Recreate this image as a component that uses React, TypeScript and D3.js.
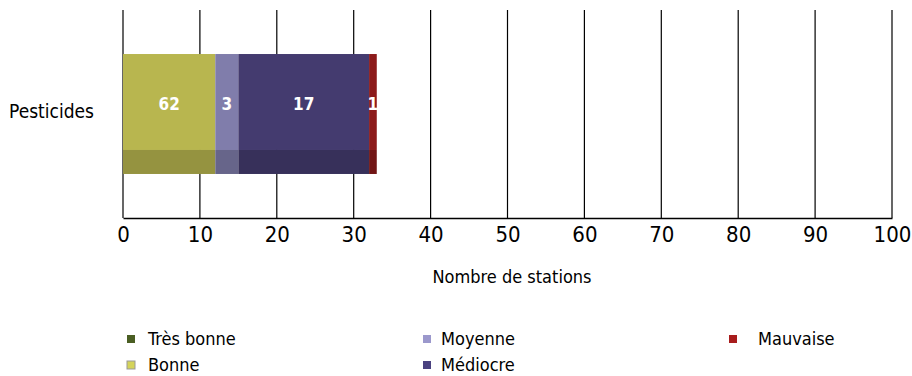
import { useEffect, useRef } from "react";
import * as d3 from "d3";

// catégories et valeurs
const categories = ["Pesticides"];
const classes = ["Très bonne", "Bonne", "Moyenne", "Médiocre", "Mauvaise"];
const values = [0, 12, 3, 17, 1];
const valueLabels = ["", "62", "3", "17", "1"];
const colors = ["#4a5e23", "#b8b64f", "#807dab", "#443b6f", "#8c1a1a"];
const legendColors = ["#4a5e23", "#d4d35a", "#9b98cc", "#4a4280", "#a81c1c"];
const xTicks = [0, 10, 20, 30, 40, 50, 60, 70, 80, 90, 100];

const FONT = "'Liberation Sans Narrow', 'DejaVu Sans Condensed', 'DejaVu Sans', sans-serif";

const App = () => {
  const ref = useRef(null);

  useEffect(() => {
    const width = 912;
    const height = 376;
    const root = d3.select(ref.current);
    root.selectAll("*").remove();

    const svg = root
      .append("svg")
      .attr("width", width)
      .attr("height", height)
      .style("position", "absolute")
      .style("left", 0)
      .style("top", 0)
      .style("font-family", FONT)
      .style("font-stretch", "condensed");

    const x = d3.scaleLinear().domain([0, 100]).range([123, 892]);
    const y = d3.scaleBand().domain(categories).range([10, 218]).paddingInner(0).paddingOuter(0.367);

    // grille verticale
    svg
      .append("g")
      .selectAll("line")
      .data(xTicks)
      .join("line")
      .attr("x1", (d) => x(d))
      .attr("x2", (d) => x(d))
      .attr("y1", 10)
      .attr("y2", 218)
      .attr("stroke", "#000")
      .attr("stroke-width", 1.2);

    // barres empilées
    let acc = 0;
    const segs = values.map((v, i) => {
      const s = { start: acc, end: acc + v, i };
      acc += v;
      return s;
    });
    const bandTop = y(categories[0]);
    const bw = y.bandwidth();
    const shadowH = bw * 0.2;
    const shown = segs.filter((s) => values[s.i] > 0);

    const g = svg.append("g");
    g.selectAll("rect.main")
      .data(shown)
      .join("rect")
      .attr("class", "main")
      .attr("x", (s) => x(s.start))
      .attr("width", (s) => x(s.end) - x(s.start))
      .attr("y", bandTop)
      .attr("height", bw - shadowH)
      .attr("fill", (s) => colors[s.i]);
    g.selectAll("rect.shadow")
      .data(shown)
      .join("rect")
      .attr("class", "shadow")
      .attr("x", (s) => x(s.start))
      .attr("width", (s) => x(s.end) - x(s.start))
      .attr("y", bandTop + bw - shadowH)
      .attr("height", shadowH)
      .attr("fill", (s) => d3.color(colors[s.i]).darker(0.6).toString());

    g.selectAll("text")
      .data(shown)
      .join("text")
      .attr("x", (s) => (x(s.start) + x(s.end)) / 2)
      .attr("y", bandTop + (bw - shadowH) / 2 + 2)
      .attr("dy", "0.35em")
      .attr("text-anchor", "middle")
      .attr("fill", "#fff")
      .attr("font-weight", "bold")
      .attr("font-size", 17)
      .text((s) => valueLabels[s.i]);

    // étiquette de catégorie
    svg
      .append("g")
      .selectAll("text")
      .data(categories)
      .join("text")
      .attr("x", 94)
      .attr("y", (d) => y(d) + bw / 2 - 3)
      .attr("dy", "0.35em")
      .attr("text-anchor", "end")
      .attr("font-size", 19)
      .text((d) => d);

    // axe X
    const axis = svg
      .append("g")
      .attr("transform", "translate(0,218)")
      .call(d3.axisBottom(x).tickValues(xTicks).tickSize(0).tickPadding(8));
    axis.select(".domain").attr("stroke", "#000").attr("stroke-width", 1.5);
    axis
      .selectAll("text")
      .attr("font-size", 22)
      .attr("font-family", FONT)
      .attr("fill", "#000");

    svg
      .append("text")
      .attr("x", 512)
      .attr("y", 283)
      .attr("text-anchor", "middle")
      .attr("font-size", 18)
      .text("Nombre de stations");

    // légende
    const legendPos = [
      [131, 339],
      [131, 365],
      [427, 339],
      [427, 365],
      [733, 339],
    ];
    const textX = [148, 148, 441, 441, 758];
    const lg = svg.append("g").selectAll("g").data(classes).join("g");
    lg.append("rect")
      .attr("x", (_, i) => legendPos[i][0] - 4)
      .attr("y", (_, i) => legendPos[i][1] - 4)
      .attr("width", 8)
      .attr("height", 8)
      .attr("fill", (_, i) => legendColors[i])
      .attr("stroke", (_, i) => (i === 1 ? "#999" : "none"))
      .attr("stroke-width", 1);
    lg.append("text")
      .attr("x", (_, i) => textX[i])
      .attr("y", (_, i) => legendPos[i][1])
      .attr("dy", "0.35em")
      .attr("font-size", 18)
      .text((d) => d);
  }, []);

  return <div ref={ref} />;
};

export default App;
